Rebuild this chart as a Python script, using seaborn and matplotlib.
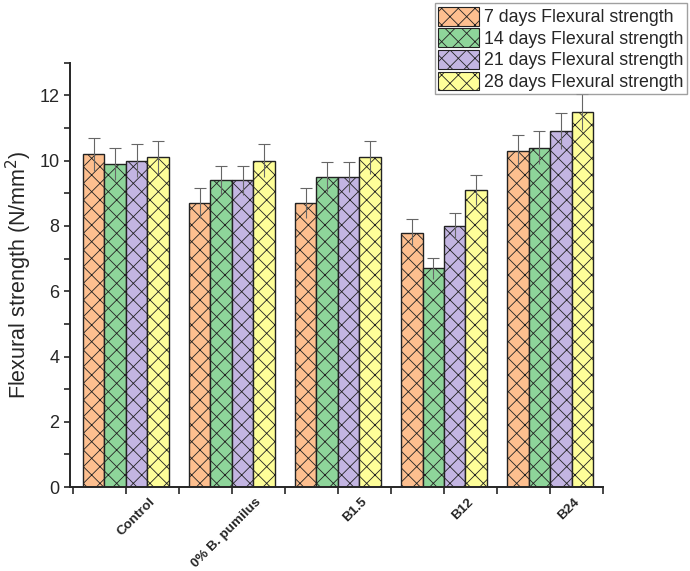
import numpy as np
import pandas as pd
import matplotlib
matplotlib.use('Agg')
import matplotlib.pyplot as plt
import matplotlib.transforms as mtransforms
import seaborn as sns

groups = ['Control', '0% B. pumilus', 'B1.5', 'B12', 'B24']
series = ['7 days Flexural strength', '14 days Flexural strength',
          '21 days Flexural strength', '28 days Flexural strength']
d7  = [10.2, 8.7, 8.7, 7.8, 10.3]
d14 = [9.9, 9.4, 9.5, 6.7, 10.4]
d21 = [10.0, 9.4, 9.5, 8.0, 10.9]
d28 = [10.1, 10.0, 10.1, 9.1, 11.5]
e7  = [0.50, 0.45, 0.45, 0.40, 0.50]
e14 = [0.50, 0.45, 0.45, 0.33, 0.50]
e21 = [0.50, 0.45, 0.45, 0.40, 0.55]
e28 = [0.50, 0.50, 0.50, 0.45, 0.55]
colors = ['#FDBF8F', '#8ED59A', '#C3B5E2', '#FEFE99']

vals = [d7, d14, d21, d28]
errs = [e7, e14, e21, e28]
df = pd.DataFrame({
    'group': groups * 4,
    'series': [s for s in series for _ in groups],
    'value': sum(vals, []),
})

sns.set_style('ticks')
plt.rcParams['font.family'] = ['Liberation Sans', 'DejaVu Sans']
plt.rcParams['hatch.color'] = '#333333'
plt.rcParams['hatch.linewidth'] = 0.6

fig = plt.figure(figsize=(6.9, 5.71), dpi=100)
ax = fig.add_axes([0.101, 0.147, 0.773, 0.743])

sns.barplot(data=df, x='group', y='value', hue='series', order=groups,
            hue_order=series, palette=colors, errorbar=None, width=0.81,
            edgecolor='#222222', linewidth=1.0, saturation=1, ax=ax, legend=False)

for cont, err in zip(ax.containers, errs):
    xs = [p.get_x() + p.get_width() / 2 for p in cont]
    ys = [p.get_height() for p in cont]
    for p in cont:
        p.set_hatch('xx')
    eb = ax.errorbar(xs, ys, yerr=err, fmt='none', ecolor='#666666',
                     elinewidth=0.8, capsize=4, capthick=0.8, zorder=5)
    eb[1][0].set_visible(False)

ax.set_ylim(0, 13)
ax.set_xlim(-0.53, 4.5)
ax.set_yticks(np.arange(0, 13, 2))
ax.set_yticks(np.arange(0, 14, 1), minor=True)
ax.set_xticks(np.arange(-0.5, 5, 1), minor=True)
ax.tick_params(axis='y', which='both', length=4, width=1.2, labelsize=13, direction='out')
ax.tick_params(axis='x', which='both', length=5, width=1.2, direction='out')
ax.set_xticks(range(len(groups)))
ax.set_xticklabels(groups, rotation=45, ha='right', rotation_mode='anchor',
                   fontsize=9.7, fontweight='bold')
shift = mtransforms.ScaledTranslation(0.23, 0.03, fig.dpi_scale_trans)
for lbl in ax.get_xticklabels():
    lbl.set_transform(lbl.get_transform() + shift)
ax.set_xlabel('')
ax.set_ylabel('Flexural strength (N/mm$^2$)', fontsize=15.5)
sns.despine(ax=ax)
for s in ['left', 'bottom']:
    ax.spines[s].set_linewidth(1.4)

handles = [plt.Rectangle((0, 0), 1, 1, facecolor=c, edgecolor='#222222',
                         hatch='xx', linewidth=0.8) for c in colors]
leg = fig.legend(handles, series, loc='upper right', bbox_to_anchor=(0.996, 0.994),
                 fontsize=12.8, frameon=True, fancybox=False, edgecolor='#888888',
                 handlelength=2.3, handleheight=1.25, handletextpad=0.3,
                 borderpad=0.2, labelspacing=0.12, borderaxespad=0)
leg.get_frame().set_linewidth(1.0)

fig.savefig('out.png', dpi=100)
